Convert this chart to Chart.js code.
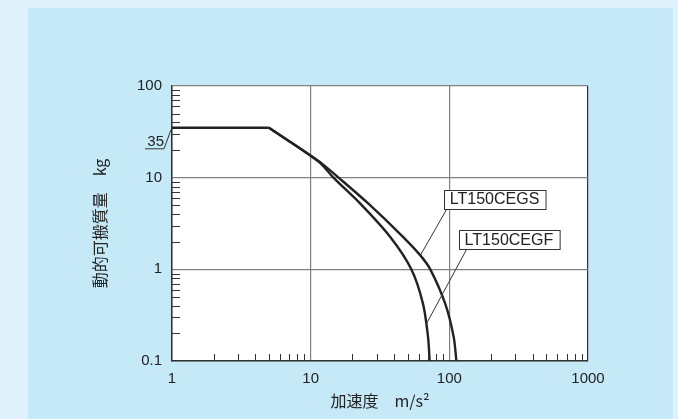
<!DOCTYPE html>
<html>
<head>
<meta charset="utf-8">
<script src="https://cdn.jsdelivr.net/npm/chart.js@4"></script>
<style>
  html, body { margin: 0; padding: 0; background: #dff1fa; }
  #wrap { position: relative; width: 678px; height: 419px; overflow: hidden; }
  #panel { position: absolute; left: 28px; top: 8px; width: 645px; height: 411px; background: #c6e9f8; }
  #chart { position: absolute; left: 0; top: 0; }
</style>
</head>
<body>
<div id="wrap">
  <div id="panel"></div>
  <canvas id="chart" width="678" height="419"></canvas>
</div>
<script>
// Dynamic payload vs acceleration (log-log)
const xTicks = [1, 10, 100, 1000];
const yTicks = [0.1, 1, 10, 100];

const flatAccel = [1, 5];
const flatMass = [35, 35];

const gsAccel = [5, 7, 10, 12, 15.9, 26.1, 46.5, 61.8, 72.9, 93.5, 107.5, 112.4];
const gsMass  = [35, 25, 17.4, 14.3, 10, 5.2, 2.25, 1.42, 1, 0.42, 0.183, 0.1];

const gfAccel = [5, 7, 10, 12, 14.6, 22.8, 37.5, 53.2, 64.6, 70.2, 72.1];
const gfMass  = [35, 25, 17.3, 14.0, 10, 5.2, 2.25, 1, 0.42, 0.183, 0.1];

// callouts: label centre, leader start, leader end (data units)
const callouts = [
    { text: 'LT150CEGS', at: [212, 5.85], from: [96.2, 4.59], to: [61.8, 1.42] },
    { text: 'LT150CEGF', at: [269, 2.13], from: [134, 1.68], to: [68, 0.251] }
];

const INK = '#222';
const toXY = (xs, ys) => xs.map((x, i) => ({ x: x, y: ys[i] }));

function minorValues(decades) {
    const out = [];
    for (let d = 0; d < decades.length - 1; d++) {
        for (let k = 2; k <= 9; k++) out.push(decades[d] * k);
    }
    return out;
}

const extras = {
    id: 'extras',
    beforeDraw(chart) {
        const a = chart.chartArea, c = chart.ctx;
        c.save();
        c.fillStyle = '#fff';
        c.fillRect(a.left, a.top, a.right - a.left, a.bottom - a.top);
        c.restore();
    },
    afterDatasetsDraw(chart) {
        const c = chart.ctx, a = chart.chartArea;
        const xs = chart.scales.x, ys = chart.scales.y;
        c.save();
        // minor ticks, pointing inward
        c.strokeStyle = '#333';
        c.lineWidth = 1;
        c.beginPath();
        minorValues(xTicks).forEach(v => {
            const px = Math.round(xs.getPixelForValue(v)) + 0.5;
            c.moveTo(px, a.bottom);
            c.lineTo(px, a.bottom - 7);
        });
        minorValues(yTicks).forEach(v => {
            const py = Math.round(ys.getPixelForValue(v)) + 0.5;
            c.moveTo(a.left, py);
            c.lineTo(a.left + 8, py);
        });
        c.stroke();

        // "35" marker on the y axis
        const y35 = ys.getPixelForValue(35);
        c.fillStyle = INK;
        c.font = "15px 'Liberation Sans', Arial, sans-serif";
        c.textAlign = 'right';
        c.textBaseline = 'alphabetic';
        c.fillText('35', a.left - 8, y35 + 18);
        c.beginPath();
        c.lineWidth = 1;
        c.moveTo(a.left - 27, y35 + 21);
        c.lineTo(a.left - 8, y35 + 21);
        c.lineTo(a.left - 1, y35 + 2);
        c.stroke();

        // callout boxes
        c.font = "16px 'Liberation Sans', Arial, sans-serif";
        c.textAlign = 'center';
        c.textBaseline = 'middle';
        callouts.forEach(o => {
            c.beginPath();
            c.strokeStyle = '#333';
            c.lineWidth = 1;
            c.moveTo(xs.getPixelForValue(o.from[0]), ys.getPixelForValue(o.from[1]));
            c.lineTo(xs.getPixelForValue(o.to[0]), ys.getPixelForValue(o.to[1]));
            c.stroke();
            const cx = xs.getPixelForValue(o.at[0]), cy = ys.getPixelForValue(o.at[1]);
            const w = c.measureText(o.text).width + 12, h = 19;
            const bx = Math.round(cx - w / 2) + 0.5, by = Math.round(cy - h / 2) + 0.5;
            c.fillStyle = '#fff';
            c.fillRect(bx, by, w, h);
            c.strokeRect(bx, by, w, h);
            c.fillStyle = INK;
            c.fillText(o.text, cx, cy + 1);
        });
        c.restore();
    }
};

const lineStyle = {
    showLine: true,
    pointRadius: 0,
    borderColor: INK,
    borderWidth: 2.4,
    tension: 0.3
};

new Chart(document.getElementById('chart'), {
    type: 'scatter',
    data: {
        datasets: [
            Object.assign({ label: 'flat', data: toXY(flatAccel, flatMass) }, lineStyle, { tension: 0 }),
            Object.assign({ label: 'LT150CEGS', data: toXY(gsAccel, gsMass) }, lineStyle),
            Object.assign({ label: 'LT150CEGF', data: toXY(gfAccel, gfMass) }, lineStyle)
        ]
    },
    options: {
        responsive: false,
        animation: false,
        layout: { padding: { left: 80, right: 90, top: 86, bottom: 0 } },
        plugins: { legend: { display: false }, tooltip: { enabled: false } },
        scales: {
            x: {
                type: 'logarithmic',
                min: 1, max: 1000,
                afterBuildTicks: s => { s.ticks = xTicks.map(v => ({ value: v })); },
                afterFit: s => { s.height = 58; },
                grid: {
                    drawTicks: false,
                    lineWidth: 1.2,
                    color: ctx => (ctx.tick && ctx.tick.value === 1000) ? '#333' : '#808080'
                },
                border: { color: '#333', width: 1.5 },
                ticks: {
                    padding: 9,
                    color: INK,
                    font: { size: 15, family: "'Liberation Sans', Arial, sans-serif" },
                    callback: v => String(v)
                },
                title: {
                    display: true,
                    text: '加速度　m/s²',
                    color: INK,
                    padding: { top: 0, bottom: 8 },
                    font: { size: 16, family: "'Noto Sans CJK JP', 'Liberation Sans', sans-serif" }
                }
            },
            y: {
                type: 'logarithmic',
                min: 0.1, max: 100,
                afterBuildTicks: s => { s.ticks = yTicks.map(v => ({ value: v })); },
                afterFit: s => { s.width = 92; },
                grid: { drawTicks: false, lineWidth: 1.2, color: '#808080' },
                border: { color: '#333', width: 1.5 },
                ticks: {
                    padding: 10,
                    color: INK,
                    font: { size: 15, family: "'Liberation Sans', Arial, sans-serif" },
                    callback: v => String(v)
                },
                title: {
                    display: true,
                    text: '動的可搬質量　kg',
                    color: INK,
                    padding: { top: 10, bottom: 0 },
                    font: { size: 16, family: "'Noto Sans CJK JP', 'Liberation Sans', sans-serif" }
                }
            }
        }
    },
    plugins: [extras]
});
</script>
</body>
</html>
